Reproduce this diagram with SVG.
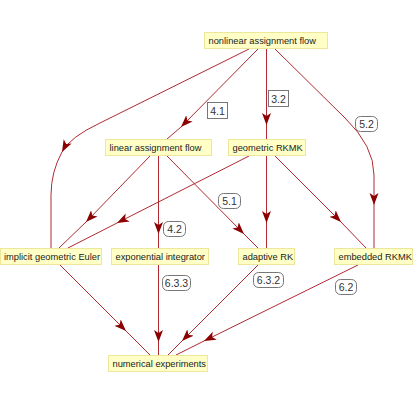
<svg xmlns="http://www.w3.org/2000/svg" width="415" height="405" viewBox="0 0 415 405">
<defs>
<marker id="ah" markerUnits="userSpaceOnUse" markerWidth="13" markerHeight="10" refX="12" refY="4.5" orient="auto">
<path d="M0,0 L12,4.5 L0,9 L3,4.5 z" fill="#8b0000"/>
</marker>
<style>
.node rect{fill:#ffffc6;stroke:#ece79a;stroke-width:1}
.node text{font-family:"Liberation Sans",Arial,sans-serif;font-size:9.3px;fill:#222}
.e{fill:none;stroke:#b02a30;stroke-width:1}
.a{marker-end:url(#ah)}
.lbl rect{fill:#fff;stroke:#777;stroke-width:1}
.lbl text{font-family:"Liberation Sans",Arial,sans-serif;font-size:10.5px;fill:#333;text-anchor:middle}
</style>
</defs>
<rect width="415" height="405" fill="#fff"/>
<g id="connectors">
<path class="e a" d="M258,49 L181,127"/><path class="e" d="M181,127 L167,139"/>
<path class="e a" d="M266.5,49 L266.5,125"/><path class="e" d="M266.5,125 L266.5,139"/>
<path class="e a" d="M249,49 L100,123 Q70,137 62,152"/><path class="e" d="M62,152 Q51,172 51,195 L51,248"/>
<path class="e a" d="M150,156 L86,222"/><path class="e" d="M86,222 L59,248"/>
<path class="e a" d="M249,156 L117,223"/><path class="e" d="M117,223 L68,248"/>
<path class="e a" d="M158.5,156 L158.5,234"/><path class="e" d="M158.5,234 L158.5,248"/>
<path class="e a" d="M167,156 L244,234"/><path class="e" d="M244,234 L258,248"/>
<path class="e a" d="M266.5,156 L266.5,223"/><path class="e" d="M266.5,223 L266.5,248"/>
<path class="e a" d="M275,156 L341,222"/><path class="e" d="M341,222 L366,248"/>
<path class="e a" d="M275,49 L345,118 Q374,146 374,175 L374,205"/><path class="e" d="M374,205 L374,248"/>
<path class="e a" d="M60,265 L126,331"/><path class="e" d="M126,331 L150,355"/>
<path class="e a" d="M158.5,265 L158.5,342"/><path class="e" d="M158.5,342 L158.5,355"/>
<path class="e a" d="M258,265 L182,341"/><path class="e" d="M182,341 L168,355"/>
<path class="e a" d="M358,265 L204,341"/><path class="e" d="M204,341 L176,355"/>
<g class="lbl">
<rect x="207.5" y="102.5" width="20" height="16"/><text x="217.5" y="114.5">4.1</text>
<rect x="268.5" y="90.5" width="20" height="16"/><text x="278.5" y="102.5">3.2</text>
<rect x="355.5" y="116.5" width="22" height="15" rx="5"/><text x="366.5" y="127.5">5.2</text>
<rect x="218.5" y="193.5" width="22" height="15" rx="5"/><text x="229.5" y="204.5">5.1</text>
<rect x="163.5" y="221.5" width="22" height="15" rx="5"/><text x="174.5" y="232.5">4.2</text>
<rect x="162.5" y="275.5" width="28" height="15" rx="5"/><text x="176.5" y="286.5">6.3.3</text>
<rect x="253.5" y="272.5" width="30" height="15" rx="5"/><text x="268.5" y="283.5">6.3.2</text>
<rect x="335.5" y="279.5" width="21" height="15" rx="5"/><text x="346" y="290.5">6.2</text>
</g>
</g>
<g id="n_nonlinear" class="node"><rect x="204.5" y="32.5" width="123" height="16"/><text x="208.5" y="44">nonlinear assignment flow</text></g>
<g id="n_linear" class="node"><rect x="105.5" y="139.5" width="106" height="16"/><text x="109.5" y="151">linear assignment flow</text></g>
<g id="n_geometric" class="node"><rect x="228.5" y="139.5" width="77" height="16"/><text x="232.5" y="151">geometric RKMK</text></g>
<g id="n_euler" class="node"><rect x="0.5" y="248.5" width="101" height="16"/><text x="4" y="260">implicit geometric Euler</text></g>
<g id="n_expint" class="node"><rect x="111.5" y="248.5" width="97" height="16"/><text x="115.5" y="260">exponential integrator</text></g>
<g id="n_adaptive" class="node"><rect x="238.5" y="248.5" width="56" height="16"/><text x="242.5" y="260">adaptive RK</text></g>
<g id="n_embedded" class="node"><rect x="334.5" y="248.5" width="78" height="16"/><text x="338.5" y="260">embedded RKMK</text></g>
<g id="n_numexp" class="node"><rect x="108.5" y="355.5" width="99" height="16"/><text x="112.5" y="367">numerical experiments</text></g>
</svg>
